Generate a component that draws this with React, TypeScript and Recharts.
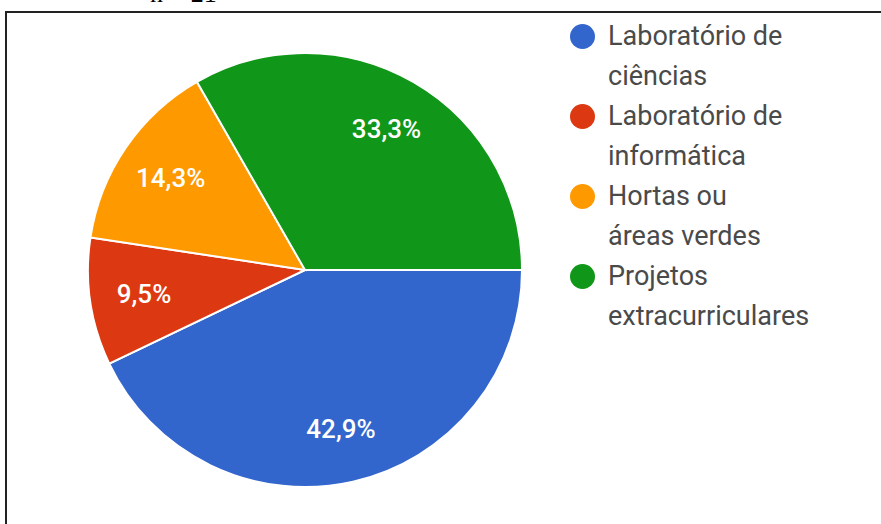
import React from 'react';
import { PieChart, Pie, Cell, Legend } from 'recharts';

const categories = [
  'Laboratório de\nciências',
  'Laboratório de\ninformática',
  'Hortas ou\náreas verdes',
  'Projetos\nextracurriculares',
];
const percents = [42.9, 9.5, 14.3, 33.3];
const colors = ['#3366cc', '#dc3912', '#ff9900', '#109618'];

const data = categories.map((name, i) => ({ name, value: percents[i] }));

const RAD = Math.PI / 180;

const renderLabel = (props: any) => {
  const { cx, cy, midAngle, outerRadius, value } = props;
  const r = outerRadius * 0.75;
  const x = cx + r * Math.cos(-midAngle * RAD);
  const y = cy + r * Math.sin(-midAngle * RAD);
  return (
    <text
      x={x}
      y={y}
      fill="#fff"
      fontSize={26}
      fontWeight={500}
      fontFamily="Roboto, sans-serif"
      textAnchor="middle"
      dominantBaseline="central"
    >
      {value.toFixed(1).replace('.', ',')}%
    </text>
  );
};

const LegendList = () => (
  <div style={{ fontFamily: 'Roboto, sans-serif', fontSize: 27, lineHeight: '40px', color: '#4a4a4a' }}>
    {data.map((d, i) => (
      <div key={d.name} style={{ position: 'relative', paddingLeft: 38, whiteSpace: 'pre-line' }}>
        <span
          style={{
            position: 'absolute',
            left: 0,
            top: 8,
            width: 25,
            height: 25,
            borderRadius: '50%',
            background: colors[i],
          }}
        />
        {d.name}
      </div>
    ))}
  </div>
);

export default function App() {
  return (
    <div
      style={{
        position: 'fixed',
        left: 0,
        top: 0,
        width: 881,
        height: 524,
        overflow: 'hidden',
        background: '#fff',
      }}
    >
      <div
        style={{
          position: 'absolute',
          left: 150,
          top: -21,
          fontFamily: 'Liberation Serif, serif',
          fontSize: 26,
          color: '#000',
          whiteSpace: 'pre',
        }}
      >
        n = 21
      </div>
      <div
        style={{
          position: 'absolute',
          left: 5,
          top: 11,
          right: -10,
          bottom: -10,
          borderTop: '2px solid #222',
          borderLeft: '2px solid #222',
        }}
      />
      <div style={{ position: 'absolute', left: 0, top: 0 }}>
        <PieChart width={881} height={524} margin={{ top: 0, right: 0, bottom: 0, left: 0 }}>
          <Pie
            data={data}
            dataKey="value"
            nameKey="name"
            cx={305}
            cy={270}
            outerRadius={217}
            startAngle={0}
            endAngle={-360}
            stroke="#fff"
            strokeWidth={2}
            label={renderLabel}
            labelLine={false}
            isAnimationActive={false}
          >
            {data.map((d, i) => (
              <Cell key={d.name} fill={colors[i]} />
            ))}
          </Pie>
          <Legend
            content={<LegendList />}
            layout="vertical"
            verticalAlign="middle"
            align="right"
            wrapperStyle={{ position: 'absolute', left: 570, top: 16, width: 300 }}
          />
        </PieChart>
      </div>
    </div>
  );
}
